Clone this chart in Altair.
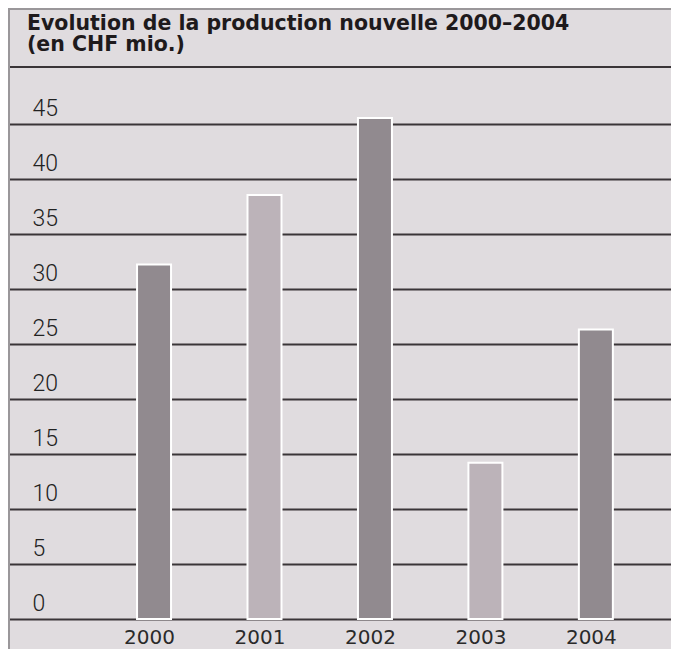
import altair as alt
import pandas as pd

# ---- data ----
years = [2000, 2001, 2002, 2003, 2004]
values = [32.2, 38.5, 45.5, 14.2, 26.3]
shades = ["dark", "light", "dark", "light", "dark"]
y_ticks = [0, 5, 10, 15, 20, 25, 30, 35, 40, 45]
title_lines = ["Evolution de la production nouvelle 2000\u20132004", "(en CHF mio.)"]

df = pd.DataFrame({"year": years, "value": values, "shade": shades})

BG = "#e0dcdf"
GRID = "#3a3538"
W, H = 663, 641

x_scale = alt.Scale(domain=[1998.7231, 2004.6349], nice=False, zero=False)
y_scale = alt.Scale(domain=[-2.725, 55.49], nice=False, zero=False)

x_axis = alt.Axis(
    values=years, format="d", grid=False, domain=False, ticks=False, tickSize=0,
    labelPadding=-12, labelBaseline="middle", labelOffset=-5, labelOverlap=False,
    labelFont="DejaVu Sans", labelFontSize=20, labelColor="#2a2a2a", title=None,
    labelFlush=False,
)
y_axis = alt.Axis(
    values=y_ticks, grid=True, gridColor=GRID, gridWidth=2, domain=False,
    ticks=False, tickSize=0, labelAlign="left", labelPadding=-24,
    labelBaseline="alphabetic", labelOffset=-8, labelOverlap=False,
    labelFont="Roboto", labelFontWeight=300, labelFontSize=23,
    labelColor="#222222", title=None,
)

bars = alt.Chart(df).mark_bar(width=34, stroke="white", strokeWidth=2).encode(
    x=alt.X("year:Q", scale=x_scale, axis=x_axis),
    y=alt.Y("value:Q", scale=y_scale, axis=y_axis),
    color=alt.Color("shade:N", scale=alt.Scale(domain=["dark", "light"],
                                               range=["#918a8f", "#bcb3b9"]), legend=None),
)

one = pd.DataFrame({"a": [0]})
title1 = alt.Chart(one).mark_text(
    align="left", baseline="alphabetic",
    font="DejaVu Sans", fontWeight="bold", fontSize=20.5, color="#1e1a1c",
).encode(text=alt.value(title_lines[0]), x=alt.value(19), y=alt.value(22))
title2 = alt.Chart(one).mark_text(
    align="left", baseline="alphabetic",
    font="DejaVu Sans", fontWeight="bold", fontSize=20.5, color="#1e1a1c",
).encode(text=alt.value(title_lines[1]), x=alt.value(19), y=alt.value(43))

sep = alt.Chart(one).mark_rule(color=GRID, strokeWidth=2).encode(y=alt.value(59))
top_border = alt.Chart(one).mark_rule(color="#9a979a", strokeWidth=2).encode(y=alt.value(1))
left_border = alt.Chart(one).mark_rule(color="#9a979a", strokeWidth=2).encode(x=alt.value(1))

chart = alt.layer(bars, sep, top_border, left_border, title1, title2).properties(
    width=W, height=H, padding=0, autosize="none", background=BG,
).configure_view(strokeWidth=0, fill=BG)

chart.save("out.html", embed_options={"renderer": "svg", "actions": False})
